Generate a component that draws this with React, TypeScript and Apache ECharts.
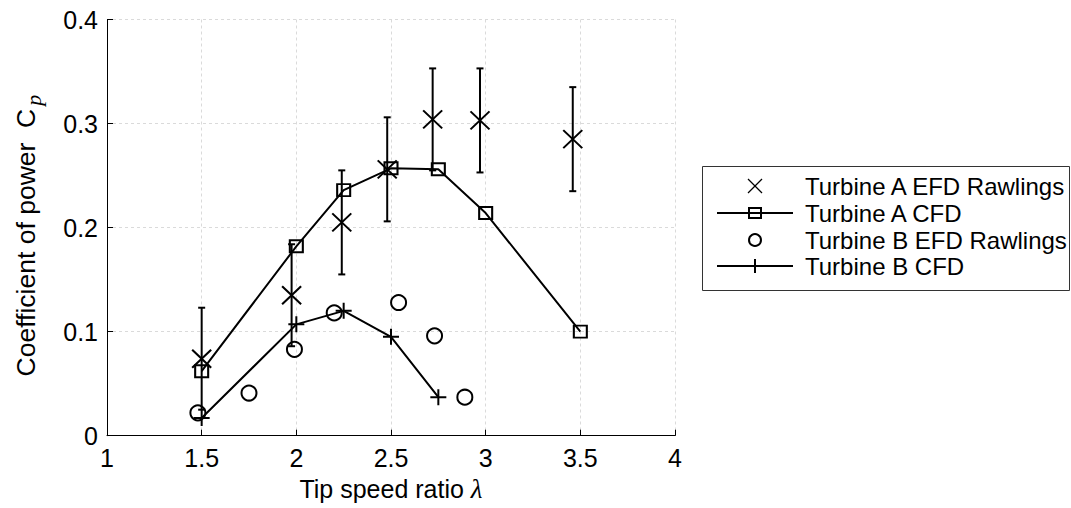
import React, { useEffect, useRef } from "react";
import * as echarts from "echarts";

// ---- data ----
const efdA_x = [1.5, 1.975, 2.24, 2.48, 2.72, 2.97, 3.46];
const efdA_y = [0.074, 0.135, 0.205, 0.256, 0.304, 0.303, 0.285];
const efdA_err = [0.049, 0.049, 0.05, 0.05, 0.049, 0.05, 0.05];

const cfdA_x = [1.5, 2.0, 2.25, 2.5, 2.75, 3.0, 3.5];
const cfdA_y = [0.062, 0.182, 0.236, 0.257, 0.256, 0.214, 0.1];

const efdB_x = [1.48, 1.75, 1.99, 2.2, 2.54, 2.73, 2.89];
const efdB_y = [0.022, 0.041, 0.083, 0.118, 0.128, 0.096, 0.037];

const cfdB_x = [1.5, 2.0, 2.25, 2.5, 2.75];
const cfdB_y = [0.017, 0.107, 0.12, 0.095, 0.037];

const seriesNames = [
  "Turbine A EFD Rawlings",
  "Turbine A CFD",
  "Turbine B EFD Rawlings",
  "Turbine B CFD",
];

const FONT = "'Liberation Sans', Arial, Helvetica, sans-serif";
const X_PATH = "path://M0,0L10,10M10,0L0,10";
const PLUS_PATH = "path://M5,0L5,10M0,5L10,5";

export default function App() {
  const ref = useRef<HTMLDivElement>(null);

  useEffect(() => {
    if (!ref.current) return;
    const chart = echarts.init(ref.current, null, { renderer: "svg" });

    const errData = efdA_x.map((x, i) => [
      x,
      efdA_y[i],
      efdA_y[i] - efdA_err[i],
      efdA_y[i] + efdA_err[i],
    ]);

    const legendRows = [186, 213, 240, 266];
    const symX = 755;
    const lineX1 = 717;
    const lineX2 = 793;
    const textX = 805;

    const legendGraphics: any[] = [
      {
        type: "rect",
        shape: { x: 702.5, y: 166.5, width: 367, height: 124 },
        style: { fill: "#fff", stroke: "#333", lineWidth: 1 },
        z: 10,
      },
      {
        type: "line",
        shape: { x1: symX - 7, y1: legendRows[0] - 7, x2: symX + 7, y2: legendRows[0] + 7 },
        style: { stroke: "#000", lineWidth: 1.2 },
        z: 11,
      },
      {
        type: "line",
        shape: { x1: symX + 7, y1: legendRows[0] - 7, x2: symX - 7, y2: legendRows[0] + 7 },
        style: { stroke: "#000", lineWidth: 1.2 },
        z: 11,
      },
      {
        type: "line",
        shape: { x1: lineX1, y1: legendRows[1], x2: lineX2, y2: legendRows[1] },
        style: { stroke: "#000", lineWidth: 2 },
        z: 11,
      },
      {
        type: "rect",
        shape: { x: symX - 6, y: legendRows[1] - 5, width: 12, height: 10 },
        style: { fill: "none", stroke: "#000", lineWidth: 2 },
        z: 12,
      },
      {
        type: "circle",
        shape: { cx: symX, cy: legendRows[2], r: 6 },
        style: { fill: "none", stroke: "#000", lineWidth: 2 },
        z: 11,
      },
      {
        type: "line",
        shape: { x1: lineX1, y1: legendRows[3], x2: lineX2, y2: legendRows[3] },
        style: { stroke: "#000", lineWidth: 2 },
        z: 11,
      },
      {
        type: "line",
        shape: { x1: symX, y1: legendRows[3] - 7, x2: symX, y2: legendRows[3] + 7 },
        style: { stroke: "#000", lineWidth: 2 },
        z: 11,
      },
    ];
    seriesNames.forEach((n, i) => {
      legendGraphics.push({
        type: "text",
        x: textX,
        y: legendRows[i],
        style: {
          text: n,
          fontSize: 24,
          fontFamily: FONT,
          fill: "#000",
          align: "left",
          verticalAlign: "middle",
        },
        z: 12,
      });
    });

    const option: any = {
      animation: false,
      backgroundColor: "#fff",
      grid: { left: 107, right: 396, top: 19.5, bottom: 72.3, containLabel: false },
      xAxis: {
        type: "value",
        min: 1,
        max: 4,
        interval: 0.5,
        name: "{a|Tip speed ratio }{b|λ}",
        nameLocation: "middle",
        nameGap: 36,
        nameTextStyle: {
          rich: {
            a: { fontSize: 25, fontFamily: FONT, color: "#000" },
            b: {
              fontSize: 27,
              fontFamily: "'Liberation Serif', 'DejaVu Serif', serif",
              fontStyle: "italic",
              color: "#000",
            },
          },
        },
        axisLine: { show: true, lineStyle: { color: "#000", width: 1 } },
        axisTick: { show: true, inside: true, length: 6, lineStyle: { color: "#000" } },
        axisLabel: { fontSize: 25, fontFamily: FONT, color: "#000", margin: 10 },
        splitLine: { show: true, lineStyle: { color: "#dadada", type: [3, 3], width: 1 } },
      },
      yAxis: {
        type: "value",
        min: 0,
        max: 0.4,
        interval: 0.1,
        name: "{a|Coefficient of power  C}{b|p}",
        nameLocation: "middle",
        nameGap: 66,
        nameTextStyle: {
          rich: {
            a: { fontSize: 26.5, fontFamily: FONT, color: "#000", lineHeight: 30 },
            b: {
              fontSize: 22,
              fontFamily: "'Liberation Serif', 'DejaVu Serif', serif",
              fontStyle: "italic",
              color: "#000",
              lineHeight: 30,
              padding: [14, 16, 0, 3],
            },
          },
        },
        axisLine: { show: true, lineStyle: { color: "#000", width: 1 } },
        axisTick: { show: true, inside: true, length: 6, lineStyle: { color: "#000" } },
        axisLabel: { fontSize: 25, fontFamily: FONT, color: "#000", margin: 9 },
        splitLine: { show: true, lineStyle: { color: "#dadada", type: [3, 3], width: 1 } },
      },
      series: [
        {
          type: "custom",
          name: "A EFD error bars",
          data: errData,
          encode: { x: 0, y: 1 },
          z: 3,
          renderItem: (params: any, api: any) => {
            const x = api.value(0);
            const lo = api.coord([x, api.value(2)]);
            const hi = api.coord([x, api.value(3)]);
            const cap = 3.5;
            const st = { stroke: "#000", lineWidth: 2 };
            return {
              type: "group",
              children: [
                { type: "line", shape: { x1: lo[0], y1: lo[1], x2: hi[0], y2: hi[1] }, style: st },
                { type: "line", shape: { x1: lo[0] - cap, y1: lo[1], x2: lo[0] + cap, y2: lo[1] }, style: st },
                { type: "line", shape: { x1: hi[0] - cap, y1: hi[1], x2: hi[0] + cap, y2: hi[1] }, style: st },
              ],
            };
          },
        },
        {
          type: "scatter",
          name: seriesNames[0],
          data: efdA_x.map((x, i) => [x, efdA_y[i]]),
          symbol: X_PATH,
          symbolSize: [19, 18],
          itemStyle: { color: "rgba(0,0,0,0)", borderColor: "#000", borderWidth: 2, opacity: 1 },
          z: 4,
        },
        {
          type: "line",
          name: seriesNames[1],
          data: cfdA_x.map((x, i) => [x, cfdA_y[i]]),
          symbol: "rect",
          symbolSize: [13, 12],
          showSymbol: true,
          lineStyle: { color: "#000", width: 2 },
          itemStyle: { color: "rgba(0,0,0,0)", borderColor: "#000", borderWidth: 2, opacity: 1 },
          z: 5,
        },
        {
          type: "scatter",
          name: seriesNames[2],
          data: efdB_x.map((x, i) => [x, efdB_y[i]]),
          symbol: "circle",
          symbolSize: 15,
          itemStyle: { color: "rgba(0,0,0,0)", borderColor: "#000", borderWidth: 2, opacity: 1 },
          z: 4,
        },
        {
          type: "line",
          name: seriesNames[3],
          data: cfdB_x.map((x, i) => [x, cfdB_y[i]]),
          symbol: PLUS_PATH,
          symbolSize: 16,
          showSymbol: true,
          lineStyle: { color: "#000", width: 2 },
          itemStyle: { color: "rgba(0,0,0,0)", borderColor: "#000", borderWidth: 2, opacity: 1 },
          z: 5,
        },
      ],
      graphic: legendGraphics,
    };

    chart.setOption(option);
    return () => chart.dispose();
  }, []);

  return (
    <div
      ref={ref}
      style={{ position: "fixed", left: 0, top: 0, width: 1071, height: 508, background: "#fff" }}
    />
  );
}
